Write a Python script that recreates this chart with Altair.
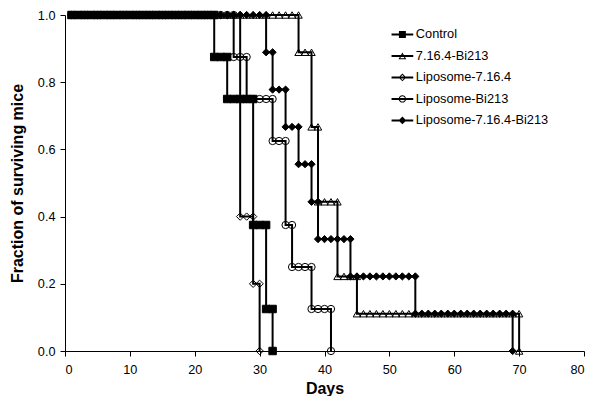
import altair as alt
import pandas as pd

series_names = ["Control", "7.16.4-Bi213", "Liposome-7.16.4", "Liposome-Bi213", "Liposome-7.16.4-Bi213"]

# Each series: survival levels and the days (markers) plotted on each level
control_levels = [1.0, 0.875, 0.75, 0.375, 0.125, 0.0]
control_days = [
    [1, 2, 3, 4, 5, 6, 7, 8, 9, 10, 11, 12, 13, 14, 15, 16, 17, 18, 19, 20, 21, 22, 23],
    [23, 24, 25],
    [25, 26, 27, 28, 29],
    [29, 30, 31],
    [31, 32],
    [32],
]

ab_levels = [1.0, 0.889, 0.667, 0.444, 0.222, 0.111, 0.0]
ab_days = [
    [1, 2, 3, 4, 5, 6, 7, 8, 9, 10, 11, 12, 13, 14, 15, 16, 17, 18, 19, 20,
     21, 22, 23, 24, 25, 26, 27, 28, 29, 30, 31, 32, 33, 34, 35, 36],
    [36, 37, 38],
    [38, 39],
    [39, 40, 41, 42],
    [42, 43, 44, 45],
    [45, 46, 47, 48, 49, 50, 51, 52, 53, 54, 55, 56, 57, 58, 59, 60, 61, 62, 63,
     64, 65, 66, 67, 68, 69, 70],
    [70],
]

lipab_levels = [1.0, 0.4, 0.2, 0.0]
lipab_days = [
    [1, 2, 3, 4, 5, 6, 7, 8, 9, 10, 11, 12, 13, 14, 15, 16, 17, 18, 19, 20,
     21, 22, 23, 24, 25, 26, 27],
    [27, 28, 29],
    [29, 30],
    [30],
]

lipbi_levels = [1.0, 0.875, 0.75, 0.625, 0.375, 0.25, 0.125, 0.0]
lipbi_days = [
    [1, 2, 3, 4, 5, 6, 7, 8, 9, 10, 11, 12, 13, 14, 15, 16, 17, 18, 19, 20,
     21, 22, 23, 24, 25, 26],
    [26, 27, 28],
    [28, 29, 30, 31, 32],
    [32, 33, 34],
    [34, 35],
    [35, 36, 37, 38],
    [38, 39, 40, 41],
    [41],
]

lipabbi_levels = [1.0, 0.889, 0.778, 0.667, 0.556, 0.444, 0.333, 0.222, 0.111, 0.0]
lipabbi_days = [
    [1, 2, 3, 4, 5, 6, 7, 8, 9, 10, 11, 12, 13, 14, 15, 16, 17, 18, 19, 20,
     21, 22, 23, 24, 25, 26, 27, 28, 29, 30, 31],
    [31, 32],
    [32, 33, 34],
    [34, 35, 36],
    [36, 37, 38],
    [38, 39],
    [39, 40, 41, 42, 43, 44],
    [44, 45, 46, 47, 48, 49, 50, 51, 52, 53, 54],
    [54, 55, 56, 57, 58, 59, 60, 61, 62, 63, 64, 65, 66, 67, 68, 69],
    [69],
]

x_ticks = [0, 10, 20, 30, 40, 50, 60, 70, 80]
y_ticks = [0.0, 0.2, 0.4, 0.6, 0.8, 1.0]

series_data = [
    ("Control", control_levels, control_days),
    ("7.16.4-Bi213", ab_levels, ab_days),
    ("Liposome-7.16.4", lipab_levels, lipab_days),
    ("Liposome-Bi213", lipbi_levels, lipbi_days),
    ("Liposome-7.16.4-Bi213", lipabbi_levels, lipabbi_days),
]

rows = []
idx = 0
for name, levels, day_groups in series_data:
    for lev, days in zip(levels, day_groups):
        for d in days:
            rows.append({"series": name, "day": d, "surv": lev, "idx": idx})
            idx += 1
df = pd.DataFrame(rows)

FONT = "Liberation Sans"

marker_shapes = ["square", "triangle-up", "diamond", "circle", "diamond"]
marker_fills = ["black", "transparent", "transparent", "transparent", "black"]
marker_sizes = [56, 52, 64, 72, 60]

# legend symbols: line + marker, all drawn as filled outlines
u = "M-2.65,-0.25H2.65V0.25H-2.65Z"
legend_paths = [
    u + "M-0.85,-0.85H0.85V0.85H-0.85Z",
    u + "M0,-0.85L0.95,0.8L-0.95,0.8ZM0,-0.37L-0.535,0.56L0.535,0.56Z",
    u + "M0,-0.95L0.95,0L0,0.95L-0.95,0ZM0,-0.61L-0.61,0L0,0.61L0.61,0Z",
    u + "M0.9,0A0.9,0.9,0,1,1,-0.9,0A0.9,0.9,0,1,1,0.9,0ZM0.64,0A0.64,0.64,0,1,0,-0.64,0A0.64,0.64,0,1,0,0.64,0Z",
    u + "M0,-0.95L0.95,0L0,0.95L-0.95,0Z",
]

base = alt.Chart(df)

x_enc = alt.X(
    "day:Q",
    scale=alt.Scale(domain=[0, 80], nice=False),
    axis=alt.Axis(values=x_ticks, title="Days", titleY=42, titleBaseline="alphabetic",
                  labelPadding=7, format="d"),
)
y_enc = alt.Y(
    "surv:Q",
    scale=alt.Scale(domain=[0, 1], nice=False),
    axis=alt.Axis(values=y_ticks, format=".1f", title="Fraction of surviving mice",
                  titleX=-43, titleY=168, titleBaseline="alphabetic", titleAngle=270,
                  labelPadding=5),
)

lines = base.mark_line(color="black", strokeWidth=2).encode(
    x=x_enc, y=y_enc, detail="series:N", order="idx:Q"
)

points = base.mark_point(filled=False, stroke="black", strokeWidth=1, opacity=1).encode(
    x="day:Q",
    y="surv:Q",
    shape=alt.Shape("series:N", scale=alt.Scale(domain=series_names, range=marker_shapes), legend=None),
    fill=alt.Fill("series:N", scale=alt.Scale(domain=series_names, range=marker_fills), legend=None),
    size=alt.Size("series:N", scale=alt.Scale(domain=series_names, range=marker_sizes), legend=None),
    order="idx:Q",
)

legend_layer = base.transform_filter("datum.day < 0").mark_point(
    filled=True, color="black", size=67, strokeWidth=0
).encode(
    x="day:Q",
    y="surv:Q",
    shape=alt.Shape(
        "series:N",
        scale=alt.Scale(domain=series_names, range=legend_paths),
        legend=alt.Legend(
            title=None, orient="none", legendX=331, legendY=13,
            symbolSize=67, symbolStrokeWidth=0, symbolOpacity=1, symbolFillColor="black",
            labelFont=FONT, labelFontSize=12.8, labelColor="black",
            rowPadding=7.5, labelOffset=7, padding=0,
        ),
    ),
)

chart = (
    alt.layer(lines, points, legend_layer)
    .resolve_scale(shape="independent")
    .properties(
        width=519,
        height=336,
        padding={"left": 57, "top": 7, "right": 8, "bottom": 45},
        autosize=alt.AutoSizeParams(type="none"),
        background="white",
    )
    .configure_view(stroke=None)
    .configure_axis(
        grid=False,
        labelFont=FONT,
        labelFontSize=12.7,
        labelColor="black",
        titleFont=FONT,
        titleFontSize=16,
        titleFontWeight="bold",
        titleColor="black",
        domainColor="black",
        domainWidth=1,
        tickColor="black",
        tickWidth=1,
        tickSize=5,
    )
)

chart.save("out.html", embed_options={"renderer": "svg", "actions": False})
